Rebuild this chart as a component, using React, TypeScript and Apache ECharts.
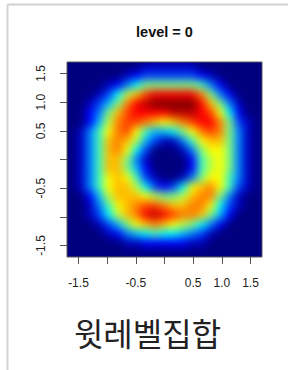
import React, { useEffect, useRef } from "react";
import * as echarts from "echarts";

// Cell centres of the density grid (data units), left→right and bottom→top share the same list
const cellCenters = [
  -1.62, -1.46, -1.3, -1.13, -0.97, -0.81, -0.65, -0.49, -0.32, -0.16, 0,
  0.16, 0.32, 0.49, 0.65, 0.81, 0.97, 1.13, 1.3, 1.46, 1.62,
];

// Density level of every cell on a 0..16 scale (base-17 digits 0-9,a-g),
// rows from top (y = +1.62) to bottom (y = -1.62)
const densityRows = [
  "000000001111110000000",
  "000000123333332100000",
  "000012468888887420000",
  "0001369bdeeeeec842000",
  "001358cefgggggeb84100",
  "00248bdeeeefffeda6200",
  "00259cddcbabcdeec8310",
  "0147acda75568acdc8410",
  "0147bcb9531147abb8410",
  "0147bca63000148aa8410",
  "0147bb8410000279a8410",
  "0147bb8520000279a8410",
  "0147aba73100148aa7410",
  "0147abb963236abca7310",
  "00259bbba9889bcc84100",
  "00147abcddcbbcca63100",
  "001369bcefedccb852000",
  "0001358abcba986420000",
  "000012456766543100000",
  "000000112222211000000",
  "000000000000000000000",
];

const jetColors = [
  "#00007F", "#0000FF", "#007FFF", "#00FFFF", "#7FFF7F",
  "#FFFF00", "#FF7F00", "#FF0000", "#7F0000",
];

const xTickValues = [-1.5, -1, -0.5, 0, 0.5, 1, 1.5];
const xLabelValues = [-1.5, -0.5, 0.5, 1, 1.5];
const yTickValues = [-1.5, -1, -0.5, 0, 0.5, 1, 1.5];
const yLabelValues = [-1.5, -0.5, 0.5, 1, 1.5];
const axisRange = [-1.7, 1.7];
const titleText = "level = 0";
const captionText = "윗레벨집합";

const PLOT = { left: 67, top: 62, width: 195, height: 195 };
const W = 288;
const H = 370;
const LATIN = "'Liberation Sans', Arial, sans-serif";

function buildHeatData() {
  const n = densityRows.length;
  const out: number[][] = [];
  densityRows.forEach((row, r) => {
    for (let c = 0; c < row.length; c++) {
      out.push([c, n - 1 - r, parseInt(row[c], 17)]);
    }
  });
  return out;
}

export default function App() {
  const heatRef = useRef<HTMLDivElement>(null);
  const axesRef = useRef<HTMLDivElement>(null);

  useEffect(() => {
    const heat = echarts.init(heatRef.current!, null, { renderer: "svg" });
    const axes = echarts.init(axesRef.current!, null, { renderer: "svg" });
    const cats = cellCenters.map((v) => String(v));

    heat.setOption({
      animation: false,
      backgroundColor: jetColors[0],
      grid: { ...PLOT },
      xAxis: { type: "category", data: cats, show: false, boundaryGap: true },
      yAxis: { type: "category", data: cats, show: false, boundaryGap: true },
      visualMap: {
        show: false,
        type: "continuous",
        min: 0,
        max: 16,
        dimension: 2,
        inRange: { color: jetColors },
      },
      series: [
        {
          type: "heatmap",
          data: buildHeatData(),
          itemStyle: { borderWidth: 0 },
          emphasis: { disabled: true },
        },
      ],
    });

    const fmt = (v: number) => Number(v).toFixed(1);
    axes.setOption({
      animation: false,
      backgroundColor: "transparent",
      grid: {
        ...PLOT,
        show: true,
        borderColor: "#5a5a5a",
        borderWidth: 1,
        backgroundColor: "transparent",
      },
      xAxis: {
        type: "value",
        min: axisRange[0],
        max: axisRange[1],
        position: "bottom",
        axisLine: { show: false, onZero: false },
        splitLine: { show: false },
        axisTick: {
          show: true,
          inside: false,
          length: 7,
          customValues: xTickValues,
          lineStyle: { color: "#555", width: 1 },
        },
        axisLabel: {
          customValues: xLabelValues,
          formatter: fmt,
          margin: 20,
          fontSize: 12,
          color: "#222",
          fontFamily: LATIN,
        },
      },
      yAxis: {
        type: "value",
        min: axisRange[0],
        max: axisRange[1],
        position: "left",
        axisLine: { show: false, onZero: false },
        splitLine: { show: false },
        axisTick: {
          show: true,
          inside: false,
          length: 7,
          customValues: yTickValues,
          lineStyle: { color: "#555", width: 1 },
        },
        axisLabel: {
          customValues: yLabelValues,
          formatter: fmt,
          rotate: 90,
          margin: 20,
          fontSize: 12,
          color: "#222",
          fontFamily: LATIN,
        },
      },
      graphic: [
        {
          type: "line",
          shape: { x1: 7.5, y1: 4.5, x2: W, y2: 4.5 },
          style: { stroke: "#d2d2d2", lineWidth: 2 },
        },
        {
          type: "line",
          shape: { x1: 7.5, y1: 4.5, x2: 7.5, y2: H },
          style: { stroke: "#d2d2d2", lineWidth: 2 },
        },
        {
          type: "text",
          x: PLOT.left + PLOT.width / 2,
          y: 31.5,
          style: {
            text: titleText,
            fill: "#111",
            font: `bold 14.5px ${LATIN}`,
            textAlign: "center",
            textVerticalAlign: "middle",
          },
        },
        {
          type: "text",
          x: 147.5,
          y: 332,
          style: {
            text: captionText,
            fill: "#222",
            font: `32px 'Noto Sans CJK KR', sans-serif`,
            textAlign: "center",
            textVerticalAlign: "middle",
          },
        },
      ],
      series: [],
    });

    return () => {
      heat.dispose();
      axes.dispose();
    };
  }, []);

  return (
    <div
      style={{
        position: "absolute",
        left: 0,
        top: 0,
        width: W,
        height: H,
        background: "#fff",
        overflow: "hidden",
      }}
    >
      <div
        style={{
          position: "absolute",
          left: PLOT.left,
          top: PLOT.top,
          width: PLOT.width,
          height: PLOT.height,
          overflow: "hidden",
        }}
      >
        <div
          ref={heatRef}
          style={{
            position: "absolute",
            left: -PLOT.left,
            top: -PLOT.top,
            width: W,
            height: H,
            filter: "blur(4px)",
          }}
        />
      </div>
      <div
        ref={axesRef}
        style={{ position: "absolute", left: 0, top: 0, width: W, height: H }}
      />
    </div>
  );
}
